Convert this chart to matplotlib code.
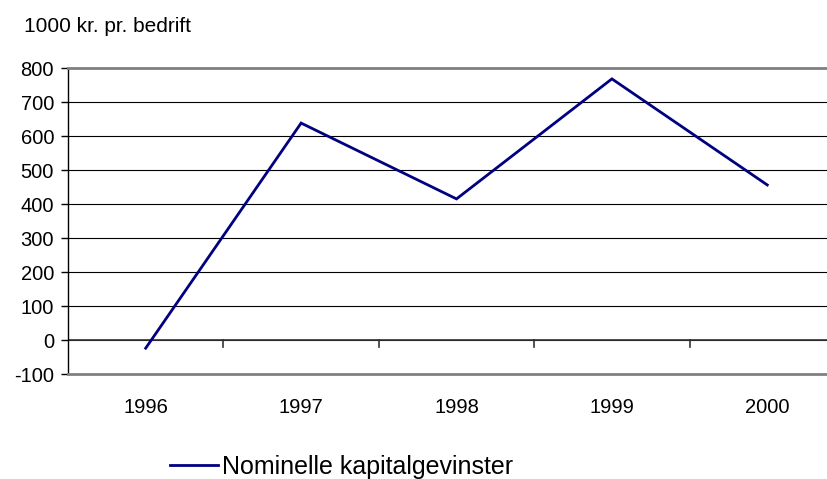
import matplotlib.pyplot as plt
from matplotlib.lines import Line2D

years = ["1996", "1997", "1998", "1999", "2000"]
gains = [-24, 638, 415, 768, 456]
yticks = [-100, 0, 100, 200, 300, 400, 500, 600, 700, 800]

plt.rcParams["font.family"] = ["Liberation Sans", "DejaVu Sans"]

fig = plt.figure(figsize=(8.27, 4.79), dpi=100)
ax = fig.add_axes([68 / 827, 1 - 374 / 479, (845 - 68) / 827, (374 - 68) / 479])

x = list(range(len(years)))
ax.plot(x, gains, color="#000080", linewidth=2, solid_joinstyle="miter")

ax.set_xlim(-0.5, len(years) - 0.5)
ax.set_ylim(-100, 800)
ax.set_yticks(yticks)
ax.set_yticklabels([str(v) for v in yticks], fontsize=14.5)

# gridlines
for v in yticks[1:-1]:
    ax.axhline(v, color="black", linewidth=0.8, zorder=0)

# category axis crosses at zero, tick marks between categories
ax.axhline(0, color="#333333", linewidth=1.2, zorder=1)
for b in range(1, len(years)):
    ax.plot([b - 0.5, b - 0.5], [0, -20], color="#333333", linewidth=1.2,
            clip_on=False, zorder=1)

ax.set_xticks(x)
ax.set_xticklabels(years, fontsize=14.5)
ax.tick_params(axis="x", length=0, pad=17)
ax.tick_params(axis="y", length=5, width=1, color="black", pad=5)

for s in ["top", "bottom", "right"]:
    ax.spines[s].set_color("#808080")
    ax.spines[s].set_linewidth(2)
ax.spines["left"].set_color("black")
ax.spines["left"].set_linewidth(1)

fig.text(24 / 827, 1 - 26 / 479, "1000 kr. pr. bedrift", fontsize=15, va="center")

handle = Line2D([], [], color="#000080", linewidth=2)
fig.legend([handle], ["Nominelle kapitalgevinster"], loc="center left",
           bbox_to_anchor=(160 / 827, 1 - 467 / 479), frameon=False, fontsize=18,
           handlelength=1.9, handletextpad=0.2, borderaxespad=0, borderpad=0.4)

fig.savefig("out.png", dpi=100)
